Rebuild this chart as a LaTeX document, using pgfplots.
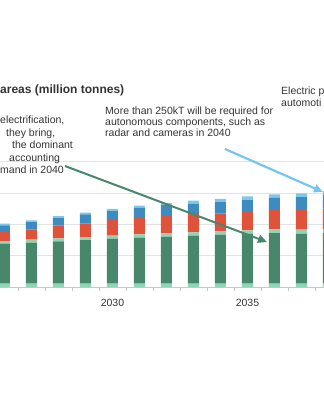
\documentclass[border=0pt]{standalone}
\usepackage{pgfplots}
\pgfplotsset{compat=1.18}
\usepackage{pgfplotstable}
\usepackage{fontspec}
\setmainfont{Liberation Sans}
\usetikzlibrary{arrows.meta}
\definecolor{dgreen}{HTML}{48876C}
\definecolor{mint}{HTML}{8ED4B5}
\definecolor{redo}{HTML}{E0533A}
\definecolor{blueb}{HTML}{3D8BBF}
\definecolor{lblue}{HTML}{7CC8EE}
\definecolor{arrblue}{HTML}{74C6EE}
\definecolor{txt}{HTML}{333333}
\definecolor{gridc}{HTML}{E3E3E3}
\definecolor{axc}{HTML}{C8C8C8}

\pgfplotstableread{
year m1 g m2 r b lb
2026 0.53 6.38 0.43 1.44 1.06 0.27
2027 0.53 6.54 0.48 1.65 1.17 0.27
2028 0.53 6.76 0.48 2.02 1.22 0.32
2029 0.53 6.97 0.48 2.18 1.44 0.27
2030 0.53 7.18 0.48 2.50 1.44 0.37
2031 0.53 7.34 0.53 2.61 1.65 0.32
2032 0.53 7.50 0.53 2.77 1.81 0.27
2033 0.53 7.66 0.53 2.93 1.65 0.48
2034 0.53 7.82 0.53 2.87 1.81 0.53
2035 0.53 7.98 0.53 2.98 1.86 0.59
2036 0.53 8.09 0.59 3.09 1.92 0.59
2037 0.53 7.98 0.64 3.19 2.02 0.59
2038 0.53 8.09 0.64 3.25 2.29 0.53
}\data

\begin{document}
\begin{tikzpicture}
\useasboundingbox (0pt,0pt) rectangle (324pt,400pt);
\clip (0pt,0pt) rectangle (324pt,400pt);
\begin{axis}[
  at={(-22.5pt,113pt)}, anchor=south west,
  scale only axis, width=378pt, height=156.5pt,
  xmin=2025, xmax=2039, ymin=0, ymax=25,
  ybar stacked, bar width=11pt,
  axis x line*=bottom, axis y line*=left,
  y axis line style={draw=none},
  x axis line style={draw=axc, line width=0.8pt},
  ytick={5,10,15,20}, yticklabels={}, ytick style={draw=none},
  ymajorgrids, major grid style={draw=gridc, line width=0.8pt},
  xtick={2030,2035}, xticklabels={2030,2035},
  major x tick style={draw=none},
  minor xtick={2025.5,2026.5,2027.5,2028.5,2029.5,2030.5,2031.5,2032.5,2033.5,2034.5,2035.5,2036.5,2037.5,2038.5},
  minor x tick style={draw=axc, line width=0.8pt},
  minor tick length=4pt, tick align=outside,
  xticklabel style={font=\fontsize{10.5}{12}\selectfont, text=txt, yshift=-4pt},
  /pgf/number format/assume math mode=true,
]
\addplot[fill=mint, draw=none] table[x=year,y=m1]{\data};
\addplot[fill=dgreen, draw=none] table[x=year,y=g]{\data};
\addplot[fill=mint, draw=none] table[x=year,y=m2]{\data};
\addplot[fill=redo, draw=none] table[x=year,y=r]{\data};
\addplot[fill=blueb, draw=none] table[x=year,y=b]{\data};
\addplot[fill=lblue, draw=none] table[x=year,y=lb]{\data};
\end{axis}
\draw[dgreen, line width=2pt, -{Triangle[length=9pt,width=8pt]}] (65pt,234pt) -- (267pt,158pt);
\draw[arrblue, line width=2.2pt, -{Triangle[length=9pt,width=8pt]}] (225pt,251pt) -- (323pt,208pt);
\tikzset{tl/.style={anchor=west, inner sep=0pt, text=txt, text height=7.5pt, text depth=2pt, font=\fontsize{10.5}{12}\selectfont}}
\node[tl, font=\fontsize{12}{14}\selectfont\bfseries, text height=8.6pt, text depth=2.4pt] at (0pt,310pt) {areas (million tonnes)};
\node[tl] at (0pt,279pt) {electrification,};
\node[tl] at (6pt,266pt) {they bring,};
\node[tl] at (12pt,254pt) {the dominant};
\node[tl] at (9pt,241pt) {accounting};
\node[tl] at (0pt,229pt) {mand in 2040};
\node[tl] at (105pt,288.3pt) {More than 250kT will be required for};
\node[tl] at (105pt,277.7pt) {autonomous components, such as};
\node[tl] at (105pt,266.7pt) {radar and cameras in 2040};
\node[tl] at (281pt,308.3pt) {Electric p};
\node[tl] at (281pt,296.7pt) {automoti};
\end{tikzpicture}
\end{document}
